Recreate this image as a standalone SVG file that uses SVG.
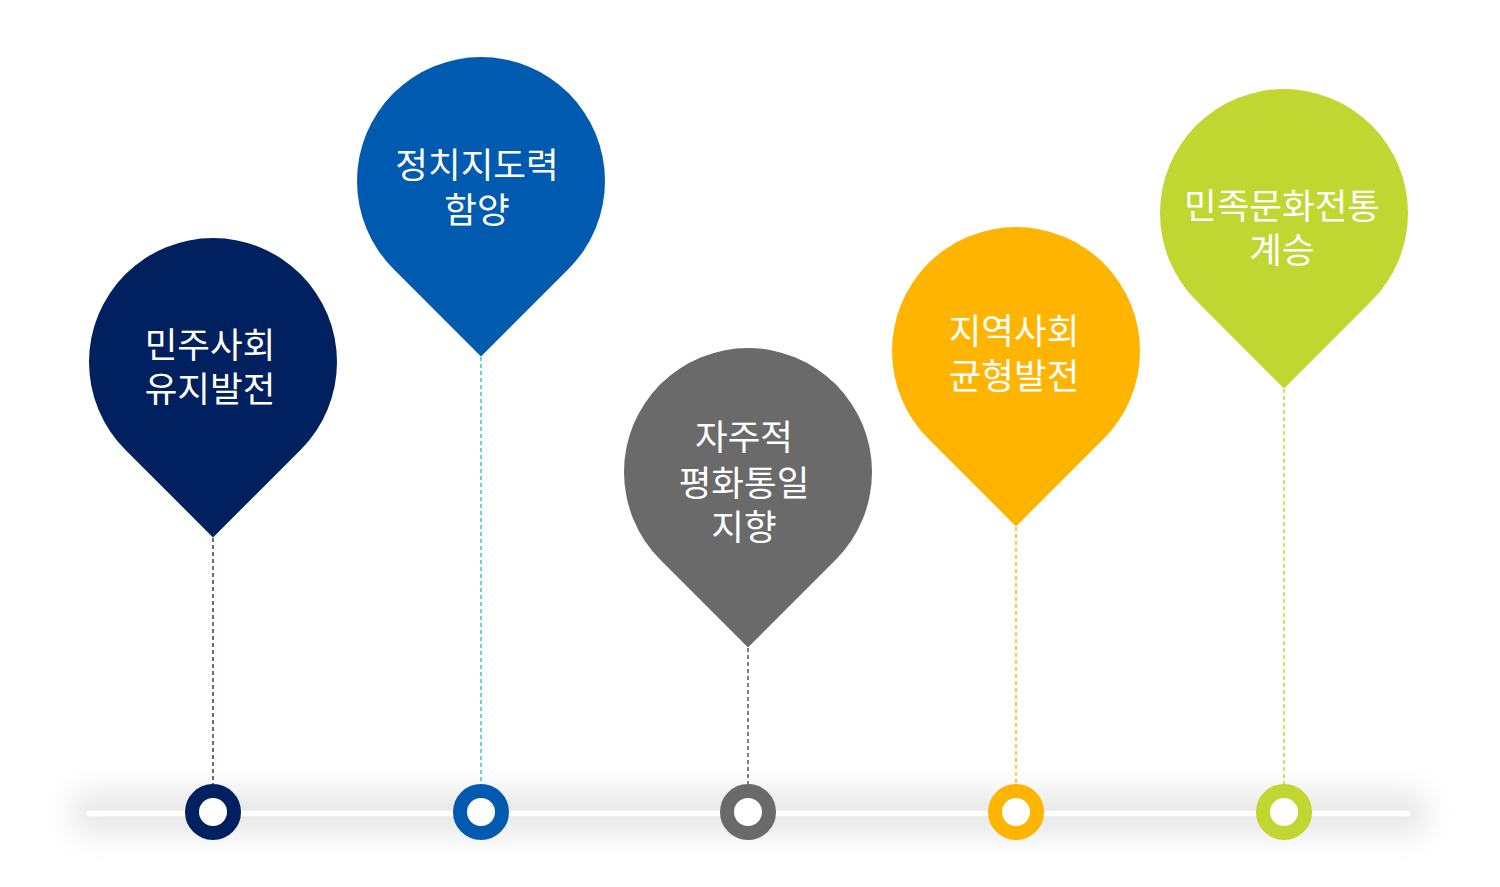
<svg xmlns="http://www.w3.org/2000/svg" width="1500" height="887" viewBox="0 0 1500 887">
<style>
.lbl{font-family:"Noto Sans CJK KR","Noto Sans",sans-serif;font-size:35.5px;fill:#fff;text-anchor:middle}
.dash{stroke-width:1.5;stroke-dasharray:4 3;fill:none}
.ring{fill:#fff;stroke-width:14}
</style>
<defs>
<filter id="blur" x="-20%" y="-300%" width="140%" height="700%"><feGaussianBlur stdDeviation="16"/></filter>
<path id="pin" d="M-87.7,87.7 L0,175.4 L87.7,87.7 A124,124 0 1 0 -87.7,87.7 Z"/>
</defs>
<rect width="1500" height="887" fill="#fff"/>
<g id="track">
<rect x="75" y="795" width="1350" height="36" fill="#e2e2e2" filter="url(#blur)"/>
<line x1="89" y1="813.5" x2="1408" y2="813.5" stroke="#fff" stroke-width="5.5" stroke-linecap="round"/>
</g>
<g id="connectors">
<line class="dash" x1="213" y1="538" x2="213" y2="784" stroke="#2b3c66"/>
<line class="dash" x1="481" y1="357" x2="481" y2="784" stroke="#3fc3c6"/>
<line class="dash" x1="748" y1="648" x2="748" y2="784" stroke="#555"/>
<line class="dash" x1="1016" y1="527" x2="1016" y2="784" stroke="#ffb400"/>
<line class="dash" x1="1284" y1="389" x2="1284" y2="784" stroke="#c0d631"/>
</g>
<g id="node1">
<use href="#pin" x="213" y="362" fill="#012060"/>
<text class="lbl" x="210" y="358">민주사회</text>
<text class="lbl" x="210" y="402">유지발전</text>
<circle class="ring" cx="213" cy="812" r="21" stroke="#012060"/>
</g>
<g id="node2">
<use href="#pin" x="481" y="181" fill="#005bb0"/>
<text class="lbl" x="477" y="178">정치지도력</text>
<text class="lbl" x="477" y="223">함양</text>
<circle class="ring" cx="481" cy="812" r="21" stroke="#005bb0"/>
</g>
<g id="node3">
<use href="#pin" x="748" y="472" fill="#6a6a6a"/>
<text class="lbl" x="744" y="450">자주적</text>
<text class="lbl" x="744" y="496">평화통일</text>
<text class="lbl" x="744" y="540">지향</text>
<circle class="ring" cx="748" cy="812" r="21" stroke="#6a6a6a"/>
</g>
<g id="node4">
<use href="#pin" x="1016" y="351" fill="#ffb400"/>
<text class="lbl" x="1014" y="344">지역사회</text>
<text class="lbl" x="1014" y="389">균형발전</text>
<circle class="ring" cx="1016" cy="812" r="21" stroke="#ffb400"/>
</g>
<g id="node5">
<use href="#pin" x="1284" y="213" fill="#c0d631"/>
<text class="lbl" x="1282" y="219">민족문화전통</text>
<text class="lbl" x="1282" y="263">계승</text>
<circle class="ring" cx="1284" cy="812" r="21" stroke="#c0d631"/>
</g>
</svg>
